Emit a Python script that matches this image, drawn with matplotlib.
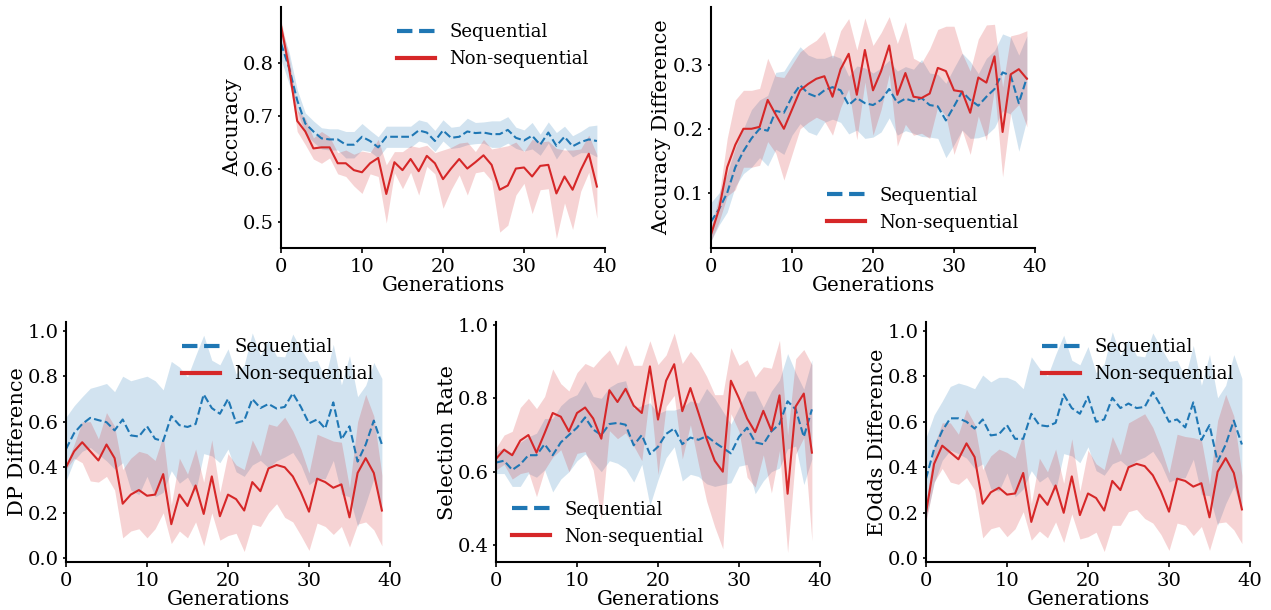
import numpy as np
import matplotlib.pyplot as plt

plt.rcParams['font.family'] = 'DejaVu Serif'
plt.rcParams['font.size'] = 14

gens = np.arange(40)

# Accuracy
acc_seq = [0.836, 0.79, 0.729, 0.685, 0.67, 0.657, 0.655, 0.655, 0.645, 0.645,
           0.66, 0.652, 0.64, 0.66, 0.66, 0.66, 0.66, 0.672, 0.668, 0.652,
           0.672, 0.658, 0.66, 0.67, 0.667, 0.668, 0.665, 0.665, 0.673, 0.658,
           0.653, 0.662, 0.645, 0.668, 0.643, 0.66, 0.642, 0.65, 0.655, 0.652]
acc_seq_sd = [0.03, 0.03, 0.02, 0.02, 0.02, 0.02, 0.02, 0.02, 0.025, 0.025,
              0.025, 0.02, 0.02, 0.02, 0.02, 0.02, 0.02, 0.02, 0.02, 0.02,
              0.02, 0.02, 0.02, 0.025, 0.02, 0.02, 0.025, 0.025, 0.025, 0.02,
              0.02, 0.025, 0.02, 0.02, 0.025, 0.02, 0.02, 0.02, 0.025, 0.03]
acc_non = [0.87, 0.79, 0.69, 0.67, 0.638, 0.64, 0.64, 0.61, 0.61, 0.597,
           0.593, 0.61, 0.62, 0.552, 0.612, 0.597, 0.618, 0.595, 0.624, 0.61,
           0.58, 0.60, 0.618, 0.60, 0.612, 0.625, 0.607, 0.56, 0.568, 0.60,
           0.602, 0.585, 0.605, 0.607, 0.553, 0.585, 0.56, 0.597, 0.628, 0.566]
acc_non_sd = [0.01, 0.02, 0.02, 0.025, 0.02, 0.03, 0.02, 0.02, 0.025, 0.03,
              0.04, 0.02, 0.035, 0.055, 0.02, 0.035, 0.025, 0.045, 0.02, 0.02,
              0.055, 0.04, 0.03, 0.05, 0.02, 0.03, 0.03, 0.08, 0.075, 0.05,
              0.03, 0.07, 0.045, 0.045, 0.085, 0.05, 0.075, 0.04, 0.035, 0.06]

# Accuracy difference
accd_seq = [0.055, 0.075, 0.10, 0.14, 0.165, 0.185, 0.20, 0.197, 0.228, 0.225,
            0.25, 0.268, 0.255, 0.25, 0.26, 0.265, 0.26, 0.237, 0.248, 0.24,
            0.237, 0.245, 0.262, 0.24, 0.247, 0.243, 0.248, 0.237, 0.235, 0.213,
            0.235, 0.258, 0.245, 0.236, 0.25, 0.262, 0.288, 0.283, 0.24, 0.28]
accd_seq_sd = [0.03, 0.025, 0.03, 0.03, 0.035, 0.045, 0.045, 0.055, 0.06, 0.065,
               0.06, 0.06, 0.06, 0.06, 0.05, 0.05, 0.05, 0.045, 0.05, 0.055,
               0.05, 0.05, 0.045, 0.05, 0.05, 0.05, 0.06, 0.05, 0.05, 0.058,
               0.06, 0.06, 0.06, 0.05, 0.06, 0.06, 0.06, 0.06, 0.075, 0.065]
accd_non = [0.035, 0.075, 0.14, 0.175, 0.20, 0.20, 0.203, 0.245, 0.222, 0.20,
            0.23, 0.26, 0.27, 0.278, 0.282, 0.25, 0.293, 0.317, 0.253, 0.323,
            0.26, 0.29, 0.33, 0.253, 0.287, 0.25, 0.248, 0.255, 0.295, 0.29,
            0.26, 0.258, 0.225, 0.28, 0.272, 0.313, 0.195, 0.285, 0.293, 0.278]
accd_non_sd = [0.01, 0.02, 0.045, 0.07, 0.06, 0.06, 0.06, 0.065, 0.06, 0.08,
               0.07, 0.06, 0.06, 0.06, 0.07, 0.06, 0.06, 0.055, 0.07, 0.05,
               0.07, 0.06, 0.045, 0.08, 0.08, 0.06, 0.055, 0.07, 0.06, 0.07,
               0.1, 0.06, 0.065, 0.06, 0.09, 0.05, 0.07, 0.06, 0.055, 0.075]

# DP difference
dp_seq = [0.48, 0.55, 0.59, 0.617, 0.607, 0.598, 0.562, 0.61, 0.54, 0.535,
          0.58, 0.525, 0.515, 0.625, 0.585, 0.577, 0.59, 0.72, 0.66, 0.635,
          0.70, 0.595, 0.605, 0.70, 0.66, 0.678, 0.658, 0.665, 0.725, 0.665,
          0.593, 0.61, 0.57, 0.685, 0.522, 0.58, 0.425, 0.5, 0.605, 0.5]
dp_seq_sd = [0.14, 0.12, 0.12, 0.13, 0.15, 0.17, 0.17, 0.19, 0.24, 0.255,
             0.22, 0.255, 0.225, 0.24, 0.255, 0.22, 0.3, 0.26, 0.21, 0.215,
             0.22, 0.215, 0.245, 0.29, 0.23, 0.28, 0.23, 0.22, 0.26, 0.255,
             0.27, 0.26, 0.22, 0.255, 0.24, 0.31, 0.285, 0.26, 0.255, 0.29]
dp_non = [0.40, 0.47, 0.51, 0.47, 0.43, 0.50, 0.44, 0.24, 0.28, 0.30,
          0.275, 0.28, 0.37, 0.15, 0.28, 0.23, 0.32, 0.195, 0.36, 0.185,
          0.28, 0.26, 0.21, 0.335, 0.295, 0.395, 0.41, 0.40, 0.36, 0.29,
          0.205, 0.35, 0.335, 0.31, 0.325, 0.18, 0.375, 0.44, 0.375, 0.21]
dp_non_sd = [0.01, 0.03, 0.09, 0.13, 0.095, 0.14, 0.14, 0.15, 0.16, 0.17,
             0.185, 0.15, 0.17, 0.085, 0.16, 0.14, 0.16, 0.14, 0.16, 0.105,
             0.18, 0.15, 0.18, 0.185, 0.155, 0.195, 0.17, 0.22, 0.2, 0.19,
             0.17, 0.195, 0.195, 0.205, 0.185, 0.13, 0.225, 0.28, 0.25, 0.155]

# Selection rate
sr_seq = [0.625, 0.63, 0.605, 0.62, 0.645, 0.645, 0.675, 0.645, 0.68, 0.70,
          0.72, 0.748, 0.715, 0.70, 0.73, 0.733, 0.728, 0.672, 0.70, 0.648,
          0.668, 0.703, 0.718, 0.675, 0.693, 0.687, 0.697, 0.68, 0.665, 0.65,
          0.695, 0.72, 0.68, 0.675, 0.71, 0.73, 0.792, 0.77, 0.695, 0.77]
sr_seq_sd = [0.03, 0.035, 0.045, 0.06, 0.05, 0.06, 0.07, 0.1, 0.1, 0.1,
             0.09, 0.1, 0.09, 0.1, 0.1, 0.11, 0.12, 0.1, 0.08, 0.14,
             0.09, 0.065, 0.05, 0.1, 0.1, 0.1, 0.13, 0.12, 0.1, 0.08,
             0.08, 0.1, 0.14, 0.1, 0.11, 0.12, 0.13, 0.1, 0.13, 0.135]
sr_non = [0.635, 0.66, 0.645, 0.685, 0.70, 0.652, 0.705, 0.76, 0.75, 0.71,
          0.76, 0.775, 0.745, 0.69, 0.822, 0.79, 0.826, 0.78, 0.76, 0.887,
          0.742, 0.848, 0.893, 0.765, 0.828, 0.76, 0.69, 0.63, 0.60, 0.848,
          0.80, 0.745, 0.708, 0.766, 0.712, 0.808, 0.54, 0.778, 0.813, 0.652]
sr_non_sd = [0.03, 0.04, 0.065, 0.09, 0.1, 0.12, 0.1, 0.12, 0.09, 0.11,
             0.11, 0.12, 0.14, 0.22, 0.11, 0.1, 0.12, 0.11, 0.13, 0.07,
             0.15, 0.07, 0.085, 0.13, 0.1, 0.14, 0.17, 0.18, 0.21, 0.09,
             0.09, 0.16, 0.15, 0.12, 0.17, 0.15, 0.16, 0.13, 0.12, 0.24]

# EOdds difference
eo_seq = [0.35, 0.48, 0.56, 0.615, 0.615, 0.60, 0.57, 0.61, 0.54, 0.545,
          0.585, 0.525, 0.525, 0.635, 0.585, 0.58, 0.595, 0.72, 0.66, 0.635,
          0.71, 0.60, 0.61, 0.705, 0.66, 0.68, 0.66, 0.665, 0.73, 0.67,
          0.60, 0.61, 0.575, 0.685, 0.52, 0.585, 0.425, 0.5, 0.605, 0.50]
eo_seq_sd = [0.18, 0.15, 0.13, 0.14, 0.155, 0.16, 0.175, 0.195, 0.235, 0.25,
             0.21, 0.255, 0.22, 0.25, 0.25, 0.22, 0.3, 0.26, 0.21, 0.215,
             0.22, 0.215, 0.245, 0.29, 0.23, 0.28, 0.23, 0.22, 0.26, 0.255,
             0.265, 0.26, 0.22, 0.25, 0.24, 0.31, 0.28, 0.26, 0.29, 0.29]
eo_non = [0.20, 0.415, 0.495, 0.465, 0.435, 0.505, 0.445, 0.24, 0.29, 0.31,
          0.28, 0.285, 0.375, 0.16, 0.28, 0.235, 0.32, 0.20, 0.36, 0.19,
          0.285, 0.265, 0.21, 0.34, 0.30, 0.40, 0.415, 0.405, 0.365, 0.295,
          0.205, 0.35, 0.34, 0.315, 0.33, 0.18, 0.38, 0.44, 0.375, 0.215]
eo_non_sd = [0.04, 0.08, 0.1, 0.13, 0.11, 0.15, 0.145, 0.15, 0.16, 0.17,
             0.185, 0.155, 0.17, 0.08, 0.16, 0.145, 0.16, 0.13, 0.165, 0.105,
             0.19, 0.15, 0.18, 0.195, 0.155, 0.195, 0.2, 0.23, 0.21, 0.19,
             0.17, 0.195, 0.195, 0.215, 0.19, 0.145, 0.225, 0.28, 0.25, 0.15]

BLUE = '#1f77b4'
RED = '#d62728'

fig = plt.figure(figsize=(12.71, 6.10), dpi=100)
W, H = 1271.0, 610.0


def make_ax(left, top, right, bottom):
    return fig.add_axes([left / W, 1 - bottom / H, (right - left) / W, (bottom - top) / H])


def panel(ax, seq, seq_sd, non, non_sd, ylabel, ylim, yticks, loc):
    seq, seq_sd = np.array(seq), np.array(seq_sd)
    non, non_sd = np.array(non), np.array(non_sd)
    ax.fill_between(gens, seq - seq_sd, seq + seq_sd, color=BLUE, alpha=0.2, lw=0)
    ax.plot(gens, seq, '--', color=BLUE, lw=1.5, label='Sequential')
    ax.fill_between(gens, non - non_sd, non + non_sd, color=RED, alpha=0.2, lw=0)
    ax.plot(gens, non, '-', color=RED, lw=1.5, label='Non-sequential')
    ax.set_xlim(0, 40)
    ax.set_ylim(*ylim)
    ax.set_yticks(yticks)
    ax.set_xticks([0, 10, 20, 30, 40])
    ax.set_xlabel('Generations', labelpad=0, fontsize=14.3)
    ax.set_ylabel(ylabel, labelpad=1, fontsize=15)
    ax.spines['top'].set_visible(False)
    ax.spines['right'].set_visible(False)
    ax.spines['left'].set_linewidth(1.5)
    ax.spines['bottom'].set_linewidth(1.5)
    ax.tick_params(width=1.2, labelsize=14)
    ax.tick_params(axis='y', length=2.5, pad=2.5)
    leg = ax.legend(loc=loc, frameon=False, fontsize=13, handlelength=2.1)
    for ln in leg.get_lines():
        ln.set_linewidth(3)


ax1 = make_ax(281, 7, 605, 248)
panel(ax1, acc_seq, acc_seq_sd, acc_non, acc_non_sd, 'Accuracy',
      (0.45, 0.905), [0.5, 0.6, 0.7, 0.8], 'upper right')

ax2 = make_ax(711, 7, 1035, 248)
panel(ax2, accd_seq, accd_seq_sd, accd_non, accd_non_sd, 'Accuracy Difference',
      (0.014, 0.39), [0.1, 0.2, 0.3], 'lower right')

ax3 = make_ax(66, 322, 390, 562)
panel(ax3, dp_seq, dp_seq_sd, dp_non, dp_non_sd, 'DP Difference',
      (-0.016, 1.038), [0.0, 0.2, 0.4, 0.6, 0.8, 1.0], 'upper right')

ax4 = make_ax(496, 322, 820, 562)
panel(ax4, sr_seq, sr_seq_sd, sr_non, sr_non_sd, 'Selection Rate',
      (0.354, 1.008), [0.4, 0.6, 0.8, 1.0], 'lower left')

ax5 = make_ax(926, 322, 1250, 562)
panel(ax5, eo_seq, eo_seq_sd, eo_non, eo_non_sd, 'EOdds Difference',
      (-0.016, 1.038), [0.0, 0.2, 0.4, 0.6, 0.8, 1.0], 'upper right')

fig.savefig('out.png', dpi=100)
